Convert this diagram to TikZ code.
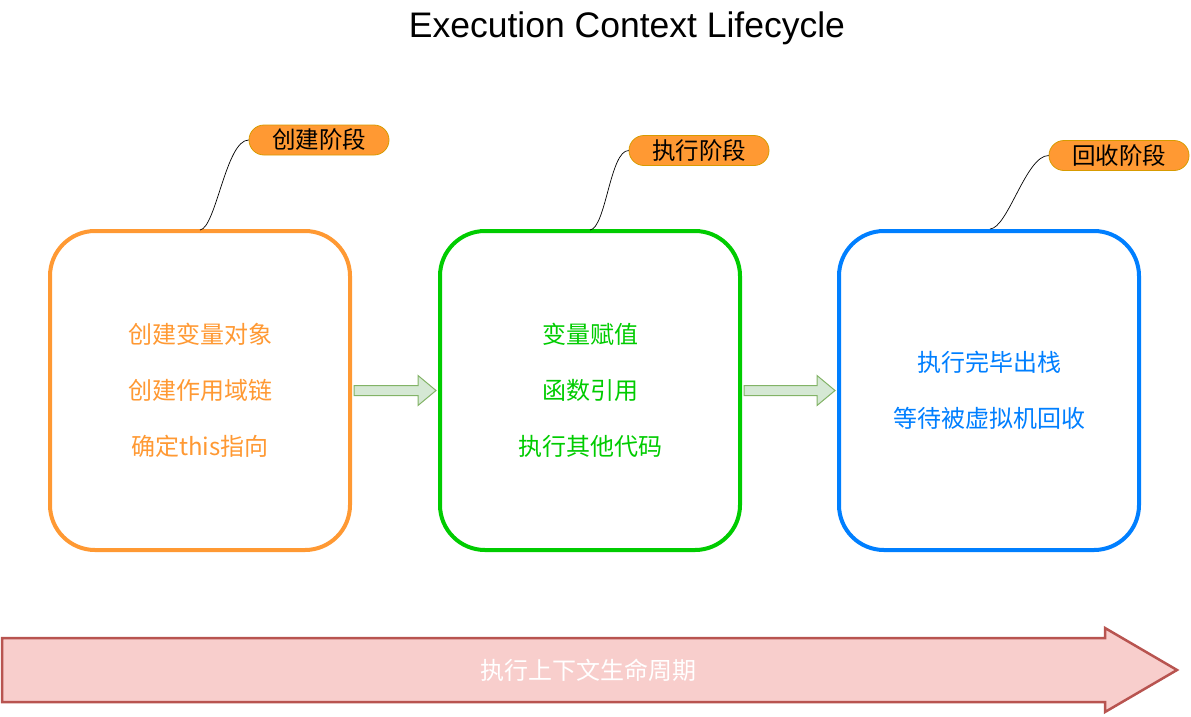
\documentclass[tikz,border=0pt]{standalone}
\usepackage{fontspec}
\setmainfont{Liberation Sans}
\newfontfamily\cjk{Noto Sans CJK SC}
\usetikzlibrary{calc}
\definecolor{orangeC}{HTML}{FF9933}
\definecolor{greenC}{HTML}{00CC00}
\definecolor{blueC}{HTML}{007FFF}
\definecolor{pillFill}{HTML}{FF9933}
\definecolor{pillDraw}{HTML}{D79B00}
\definecolor{smallFill}{HTML}{D5E8D4}
\definecolor{smallDraw}{HTML}{82B366}
\definecolor{bigFill}{HTML}{F8CECC}
\definecolor{bigDraw}{HTML}{B85450}
\begin{document}
\begin{tikzpicture}[x=1pt,y=-1pt,
  phasebox/.style={draw, line width=4pt, rounded corners=45pt, minimum width=300pt, minimum height=319pt, inner sep=0pt, fill=white},
  boxtext/.style={font=\cjk\fontsize{24}{56}\selectfont, align=center},
  pill/.style={draw=pillDraw, fill=pillFill, line width=0.8pt, rounded corners=15pt, minimum width=140pt, minimum height=30pt, inner sep=0pt, font=\cjk\fontsize{23.5}{26}\selectfont, text=black},
  leader/.style={draw=black, line width=0.7pt},
  smallarrow/.style={draw=smallDraw, fill=smallFill, line width=1pt},
  bigarrow/.style={draw=bigDraw, fill=bigFill, line width=2.5pt}
]
\useasboundingbox (0,0) rectangle (1191,716);
% title
\node[anchor=base, inner sep=0pt] (title) at (627,37) {\fontsize{35.5}{40}\selectfont Execution Context Lifecycle};
% boxes
\node[phasebox, draw=orangeC] (o) at (200,390.5) {};
\node[phasebox, draw=greenC] (g) at (590,390.5) {};
\node[phasebox, draw=blueC] (b) at (989,390.5) {};
\node[boxtext, text=orangeC] (ot) at (200,390) {创建变量对象\\创建作用域链\\确定this指向};
\node[boxtext, text=greenC] (gt) at (590,390) {变量赋值\\函数引用\\执行其他代码};
\node[boxtext, text=blueC] (bt) at (989,390) {执行完毕出栈\\等待被虚拟机回收};
% pills
\node[pill] (p1) at (319,140) {创建阶段};
\node[pill] (p2) at (699,150.5) {执行阶段};
\node[pill] (p3) at (1119,155.5) {回收阶段};
\coordinate (c1) at (200,230);
\coordinate (c2) at (590,230);
\coordinate (c3) at (990,229);
\draw[leader] (c1) .. controls (216,228) and (226,140) .. (p1.west);
\draw[leader] (c2) .. controls (606,228) and (610,150.5) .. (p2.west);
\draw[leader] (c3) .. controls (1008,228) and (1026,155.5) .. (p3.west);
% small arrows
\path[smallarrow] ($(o.east)+(2,-5)$) -- ($(g.west)+(-20,-5)$) -- ($(g.west)+(-20,-15)$) -- ($(g.west)+(-2,0)$) -- ($(g.west)+(-20,15)$) -- ($(g.west)+(-20,5)$) -- ($(o.east)+(2,5)$) -- cycle;
\path[smallarrow] ($(g.east)+(2,-5)$) -- ($(b.west)+(-20,-5)$) -- ($(b.west)+(-20,-15)$) -- ($(b.west)+(-2,0)$) -- ($(b.west)+(-20,15)$) -- ($(b.west)+(-20,5)$) -- ($(g.east)+(2,5)$) -- cycle;
% big arrow
\coordinate (bs) at (2,670);
\coordinate (bt2) at (1177,670);
\path[bigarrow] (2,638) -- (1105,638) -- (1105,628) -- (bt2) -- (1105,712) -- (1105,702) -- (2,702) -- cycle;
\node[font=\cjk\fontsize{24}{26}\selectfont, text=white] (life) at (588,670) {执行上下文生命周期};
\end{tikzpicture}
\end{document}
